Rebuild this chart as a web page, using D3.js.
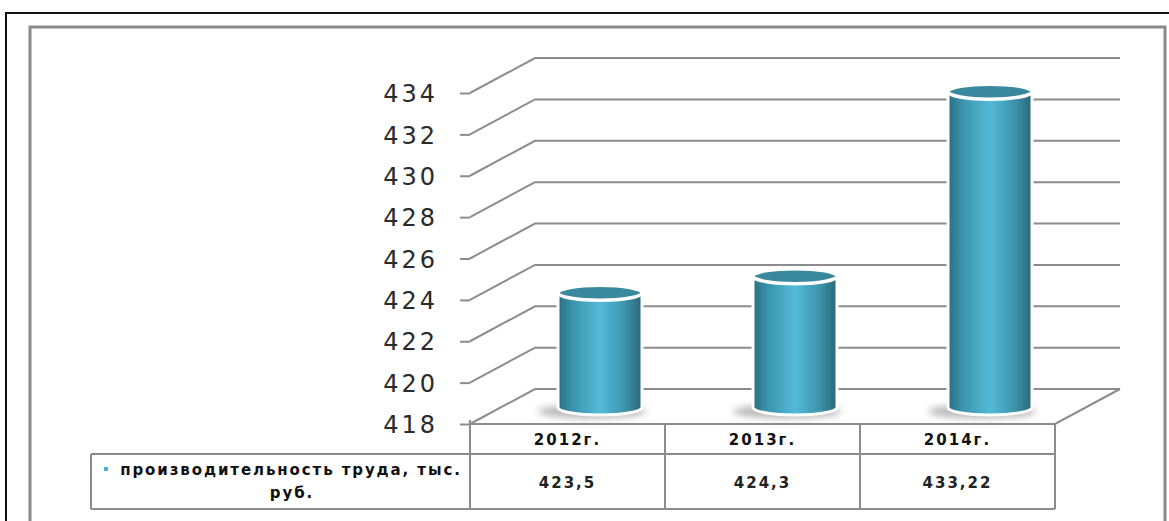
<!DOCTYPE html>
<html>
<head>
<meta charset="utf-8">
<script src="https://cdn.jsdelivr.net/npm/d3@7"></script>
<style>
  body { margin: 0; background: #fff; }
</style>
</head>
<body>
<div id="chart"></div>
<script>
// chart values
const categories = ['2012г.', '2013г.', '2014г.'];
const values = [423.5, 424.3, 433.22];
const valueLabels = ['423,5', '424,3', '433,22'];
const yTicks = [418, 420, 422, 424, 426, 428, 430, 432, 434];
const seriesName = ['производительность труда, тыс.', 'руб.'];

const width = 1169;
const height = 521;
const depth = {x: 65, y: -35};   // offset of back wall
const gridColor = '#8c8c8c';

const svg = d3.create('svg')
    .attr('width', width)
    .attr('height', height);

const defs = svg.append('defs');

const grad = defs.append('linearGradient')
    .attr('id', 'cyl')
    .attr('x1', '0%').attr('x2', '100%')
    .attr('y1', '0%').attr('y2', '0%');
[['0%', '#2b6f83'], ['18%', '#3b95ad'], ['50%', '#53bad7'], ['78%', '#3e96ae'], ['100%', '#2a6677']]
    .forEach(s => grad.append('stop').attr('offset', s[0]).attr('stop-color', s[1]));

defs.append('filter').attr('id', 'blur')
    .attr('x', '-50%').attr('y', '-100%').attr('width', '200%').attr('height', '300%')
    .append('feGaussianBlur').attr('stdDeviation', 3.5);

// frames
svg.append('rect')
    .attr('x', 6).attr('y', 13)
    .attr('width', 1180).attr('height', 560)
    .attr('fill', 'none').attr('stroke', '#111').attr('stroke-width', 2);
svg.append('rect')
    .attr('x', 30).attr('y', 27)
    .attr('width', 1135).attr('height', 560)
    .attr('fill', 'none').attr('stroke', '#8a8a8a').attr('stroke-width', 3);

// scales
const yScale = d3.scaleLinear()
    .domain([418, 434])
    .range([424, 93]);

const xScale = d3.scaleBand()
    .domain(categories)
    .range([470, 1055])
    .padding(0);

const x0 = xScale.range()[0];
const x1 = xScale.range()[1];
const floorY = yScale(418);

// back wall gridlines (diagonal on the side wall + horizontal on the back)
const grid = svg.append('g')
    .attr('fill', 'none')
    .attr('stroke', gridColor)
    .attr('stroke-width', 2);

grid.selectAll('path.grid')
    .data(yTicks)
    .enter().append('path')
    .attr('class', 'grid')
    .attr('d', t => `M${x0},${yScale(t)} L${x0 + depth.x},${yScale(t) + depth.y} L${x1 + depth.x},${yScale(t) + depth.y}`);

// floor edges
grid.append('path')
    .attr('d', `M${x0},${floorY} L${x1},${floorY} L${x1 + depth.x},${floorY + depth.y}`);

// y axis
const yAxis = svg.append('g')
    .attr('transform', `translate(${x0},0)`)
    .call(d3.axisLeft(yScale).tickValues(yTicks).tickSize(10).tickPadding(22).tickFormat(d3.format('d')));
yAxis.select('.domain').remove();
yAxis.selectAll('.tick line').attr('stroke', gridColor).attr('stroke-width', 2);
yAxis.selectAll('.tick text')
    .attr('fill', '#2a2a2a')
    .attr('font-family', 'DejaVu Sans, sans-serif')
    .attr('font-size', 24)
    .attr('letter-spacing', 3)
    .attr('dy', '0.36em');

// cylinders
const r = 42;
const ry = 7.5;
const cyl = svg.append('g')
    .selectAll('g')
    .data(values)
    .enter().append('g');

const cx = (d, i) => xScale(categories[i]) + xScale.bandwidth() / 2 + depth.x / 2;
const topY = d => yScale(d) + depth.y / 2;
const botY = floorY + depth.y / 2 + 1;

cyl.append('ellipse')
    .attr('cx', (d, i) => cx(d, i) - 8)
    .attr('cy', botY + 4)
    .attr('rx', r + 12)
    .attr('ry', 7)
    .attr('fill', '#8a8a8a')
    .attr('opacity', 0.6)
    .attr('filter', 'url(#blur)');

cyl.append('path')
    .attr('d', (d, i) => {
        const c = cx(d, i);
        return `M${c - r},${topY(d)} L${c - r},${botY} A${r},${ry} 0 0 0 ${c + r},${botY} L${c + r},${topY(d)} Z`;
    })
    .attr('fill', 'url(#cyl)')
    .attr('stroke', '#fff')
    .attr('stroke-width', 3);

cyl.append('ellipse')
    .attr('cx', (d, i) => cx(d, i))
    .attr('cy', d => topY(d))
    .attr('rx', r)
    .attr('ry', ry)
    .attr('fill', '#3a889d')
    .attr('stroke', '#fff')
    .attr('stroke-width', 3.5);

// data table
const rowTop = floorY;
const rowMid = 454;
const rowBot = 509;
const labelLeft = 91;

const table = svg.append('g')
    .attr('fill', 'none')
    .attr('stroke', gridColor)
    .attr('stroke-width', 2);

table.append('path')
    .attr('d', `M${labelLeft},${rowMid} L${x1},${rowMid} M${labelLeft},${rowBot} L${x1},${rowBot} M${labelLeft},${rowMid} L${labelLeft},${rowBot} M${x0},${rowTop - 4} L${x0},${rowBot}`);

table.selectAll('line.col')
    .data(categories)
    .enter().append('line')
    .attr('class', 'col')
    .attr('x1', d => xScale(d) + xScale.bandwidth())
    .attr('x2', d => xScale(d) + xScale.bandwidth())
    .attr('y1', rowTop)
    .attr('y2', rowBot);

svg.append('g')
    .selectAll('text')
    .data(categories)
    .enter().append('text')
    .attr('x', d => xScale(d) + xScale.bandwidth() / 2)
    .attr('y', (rowTop + rowMid) / 2 + 6)
    .attr('text-anchor', 'middle')
    .attr('font-family', 'DejaVu Sans, sans-serif')
    .attr('font-weight', 'bold')
    .attr('font-size', 15)
    .attr('letter-spacing', 2)
    .attr('fill', '#111')
    .text(d => d);

svg.append('g')
    .selectAll('text')
    .data(valueLabels)
    .enter().append('text')
    .attr('x', (d, i) => xScale(categories[i]) + xScale.bandwidth() / 2)
    .attr('y', (rowMid + rowBot) / 2 + 6)
    .attr('text-anchor', 'middle')
    .attr('font-family', 'DejaVu Sans, sans-serif')
    .attr('font-weight', 'bold')
    .attr('font-size', 15)
    .attr('letter-spacing', 2)
    .attr('fill', '#222')
    .text(d => d);

// series label with legend key
svg.append('rect')
    .attr('x', 104).attr('y', 467)
    .attr('width', 4).attr('height', 4)
    .attr('fill', '#4bb3d0');

svg.append('text')
    .attr('x', 291)
    .attr('y', 475)
    .attr('text-anchor', 'middle')
    .attr('font-family', 'DejaVu Sans, sans-serif')
    .attr('font-weight', 'bold')
    .attr('font-size', 15)
    .attr('letter-spacing', 1.9)
    .attr('fill', '#111')
    .text(seriesName[0]);

svg.append('text')
    .attr('x', 292)
    .attr('y', 498)
    .attr('text-anchor', 'middle')
    .attr('font-family', 'DejaVu Sans, sans-serif')
    .attr('font-weight', 'bold')
    .attr('font-size', 15)
    .attr('letter-spacing', 1.9)
    .attr('fill', '#111')
    .text(seriesName[1]);

document.getElementById('chart').appendChild(svg.node());
</script>
</body>
</html>
